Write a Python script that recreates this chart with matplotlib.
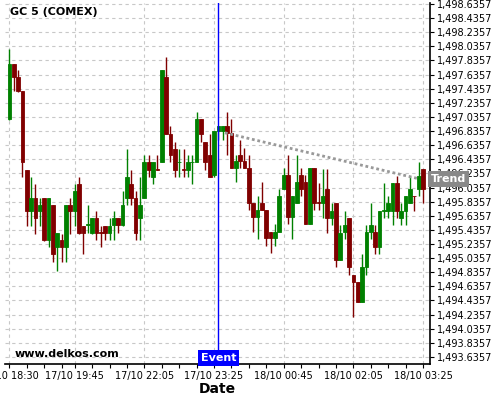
import numpy as np
import matplotlib
matplotlib.use("Agg")
import matplotlib.pyplot as plt
from matplotlib.ticker import FuncFormatter

# OHLC values (5 min candles, index based x axis)
opens = [1497.01, 1497.79, 1497.60, 1497.40, 1496.29, 1495.70, 1495.89, 1495.70, 1495.89, 1495.29,
         1495.79, 1495.19, 1495.29, 1495.19, 1495.79, 1495.70, 1496.09, 1495.49, 1495.51, 1495.39,
         1495.60, 1495.40, 1495.49, 1495.39, 1495.50, 1495.60, 1495.50, 1495.89, 1496.09, 1495.89,
         1495.60, 1495.89, 1496.39, 1496.19, 1496.30, 1496.39, 1497.60, 1496.80, 1496.58, 1496.39,
         1496.30, 1496.29, 1496.39, 1496.39, 1497.00, 1496.68, 1496.49, 1496.21, 1496.83, 1496.83,
         1496.91, 1496.81, 1496.31, 1496.50, 1496.41, 1496.31, 1495.82, 1495.62, 1495.82, 1495.72,
         1495.40, 1495.32, 1495.41, 1496.01, 1496.21, 1495.62, 1495.82, 1496.21, 1496.11, 1495.52,
         1496.31, 1495.83, 1495.81, 1496.01, 1495.61, 1495.81, 1495.01, 1495.40, 1495.61, 1494.80,
         1494.70, 1494.41, 1494.91, 1495.40, 1495.40, 1495.20, 1495.71, 1495.71, 1495.71, 1496.10,
         1495.61, 1495.71, 1495.81, 1495.92, 1496.01, 1496.30]
highs = [1498.00, 1497.79, 1497.70, 1497.40, 1496.29, 1496.19, 1496.09, 1495.89, 1495.89, 1495.89,
         1495.79, 1495.39, 1495.38, 1495.79, 1495.89, 1496.09, 1496.19, 1495.49, 1495.79, 1495.60,
         1495.70, 1495.49, 1495.49, 1495.60, 1495.70, 1495.60, 1495.99, 1496.58, 1496.29, 1495.99,
         1496.19, 1496.49, 1496.49, 1496.39, 1496.49, 1497.70, 1497.89, 1496.90, 1496.68, 1496.58,
         1496.58, 1496.49, 1496.49, 1497.10, 1497.00, 1496.68, 1496.80, 1496.83, 1496.91, 1496.91,
         1497.11, 1497.01, 1496.50, 1496.71, 1496.60, 1496.50, 1495.82, 1495.91, 1496.11, 1495.72,
         1495.40, 1495.52, 1496.01, 1496.31, 1496.50, 1495.91, 1496.50, 1496.31, 1496.21, 1496.31,
         1496.31, 1496.10, 1496.30, 1496.30, 1495.81, 1495.81, 1495.51, 1495.71, 1495.61, 1494.80,
         1494.70, 1495.10, 1495.51, 1495.81, 1495.51, 1495.71, 1496.10, 1495.91, 1496.10, 1496.20,
         1495.81, 1495.91, 1496.20, 1495.92, 1496.40, 1496.30]
lows = [1496.99, 1497.40, 1497.39, 1496.19, 1495.49, 1495.49, 1495.38, 1495.49, 1495.28, 1495.19,
        1494.98, 1494.86, 1494.98, 1494.98, 1495.38, 1495.49, 1495.38, 1495.09, 1495.39, 1495.38,
        1495.29, 1495.19, 1495.29, 1495.29, 1495.29, 1495.39, 1495.49, 1495.79, 1495.79, 1495.29,
        1495.29, 1495.89, 1496.19, 1496.09, 1496.29, 1496.39, 1496.80, 1496.39, 1496.19, 1496.19,
        1496.19, 1496.19, 1496.09, 1496.39, 1496.68, 1496.29, 1496.19, 1496.19, 1496.71, 1496.71,
        1496.50, 1496.31, 1496.11, 1496.31, 1496.31, 1495.72, 1495.40, 1495.31, 1495.72, 1495.21,
        1495.11, 1495.21, 1495.41, 1496.01, 1495.52, 1495.31, 1495.82, 1495.91, 1495.52, 1495.52,
        1495.72, 1495.72, 1495.60, 1495.39, 1495.51, 1494.91, 1495.01, 1495.30, 1494.80, 1494.20,
        1494.41, 1494.41, 1494.80, 1495.30, 1495.10, 1495.10, 1495.60, 1495.60, 1495.51, 1495.60,
        1495.51, 1495.51, 1495.81, 1495.71, 1495.91, 1495.81]
closes = [1497.79, 1497.60, 1497.40, 1496.40, 1495.70, 1495.89, 1495.60, 1495.79, 1495.29, 1495.89,
          1495.09, 1495.39, 1495.19, 1495.79, 1495.70, 1495.99, 1495.39, 1495.39, 1495.52, 1495.60,
          1495.39, 1495.39, 1495.39, 1495.49, 1495.60, 1495.50, 1495.79, 1496.19, 1495.89, 1495.39,
          1495.79, 1496.39, 1496.29, 1496.39, 1496.29, 1497.70, 1496.80, 1496.49, 1496.29, 1496.40,
          1496.29, 1496.39, 1496.40, 1497.00, 1496.80, 1496.39, 1496.19, 1496.83, 1496.91, 1496.91,
          1496.81, 1496.31, 1496.41, 1496.41, 1496.31, 1495.82, 1495.62, 1495.72, 1495.72, 1495.32,
          1495.32, 1495.40, 1495.91, 1496.21, 1495.62, 1495.91, 1496.11, 1496.01, 1495.52, 1496.31,
          1495.82, 1495.82, 1495.91, 1495.61, 1495.71, 1495.01, 1495.39, 1495.51, 1494.91, 1494.70,
          1494.41, 1494.91, 1495.40, 1495.51, 1495.20, 1495.71, 1495.72, 1495.81, 1496.10, 1495.71,
          1495.71, 1495.91, 1496.01, 1495.91, 1496.20, 1496.01]

# labelled candles on the x axis
tick_idx = [0, 15, 31, 47, 63, 79, 95]
tick_labels = ["17/10 18:30", "17/10 19:45", "17/10 22:05", "17/10 23:25",
               "18/10 00:45", "18/10 02:05", "18/10 03:25"]
minor_idx = [4, 8, 12, 19, 23, 27, 35, 39, 43, 51, 55, 59, 67, 71, 75, 83, 87, 91]

# y ticks
y_ticks = [1493.6357 + 0.2 * k for k in range(26)]

event_idx = 48
trend_x = [49.5, 94]
trend_y = [1496.81, 1496.16]

up_col = "#008000"
down_col = "#800000"

fig = plt.figure(figsize=(5, 4), dpi=100)
ax = fig.add_axes([0.01, 0.09, 0.85, 0.9013])

x = np.arange(len(opens))
o = np.array(opens)
c = np.array(closes)
cols = [up_col if cc >= oo else down_col for oo, cc in zip(o, c)]

# wicks then bodies
ax.vlines(x, lows, highs, colors=cols, linewidth=1.0, zorder=3)
ax.bar(x, c - o, bottom=o, width=0.85, color=cols, edgecolor=cols,
       linewidth=0.6, zorder=4)

# event line + label
ax.axvline(event_idx, color="#0000ff", linewidth=1.0, zorder=5)
ax.text(event_idx, 1493.545, "Event", ha="center", va="bottom", color="white",
        fontsize=8, fontweight="bold", zorder=7,
        bbox=dict(facecolor="#0000ff", edgecolor="none", pad=2.2))

# trend line + label
ax.plot(trend_x, trend_y, color="#999999", linestyle=(0, (1, 1)), linewidth=2, zorder=5)
ax.text(1.002, trend_y[1], "Trend", transform=ax.get_yaxis_transform(),
        ha="left", va="center", color="white", fontsize=8, fontweight="bold",
        zorder=10, clip_on=False,
        bbox=dict(facecolor="#888888", edgecolor="none", pad=2.0))

ax.set_xlim(-1.0, 96.6)
ax.set_ylim(1493.536, 1498.642)

ax.set_xticks(tick_idx)
ax.set_xticklabels(tick_labels)
ax.set_xticks(minor_idx, minor=True)
ax.set_yticks(y_ticks)
ax.yaxis.set_major_formatter(FuncFormatter(lambda v, p: "{:,.4f}".format(v)))
ax.yaxis.tick_right()
ax.tick_params(axis="both", labelsize=7, length=3, width=0.8, pad=2)
ax.tick_params(axis="x", which="minor", length=3, width=0.8)

ax.grid(True, axis="both", which="major", color="#c8c8c8", linestyle=(0, (3, 3)),
        linewidth=0.8, zorder=0)
ax.set_axisbelow(True)

for s in ["top", "left"]:
    ax.spines[s].set_visible(False)
ax.spines["bottom"].set_linewidth(1.2)
ax.spines["right"].set_linewidth(1.2)

ax.text(0.012, 0.976, "GC 5 (COMEX)", transform=ax.transAxes, fontsize=8,
        fontweight="bold", va="center", ha="left")
ax.text(0.023, 0.027, "www.delkos.com", transform=ax.transAxes, fontsize=8,
        fontweight="bold", va="center", ha="left")

ax.set_xlabel("Date", fontsize=10, fontweight="bold", labelpad=1)

plt.savefig("out.png", dpi=100)
